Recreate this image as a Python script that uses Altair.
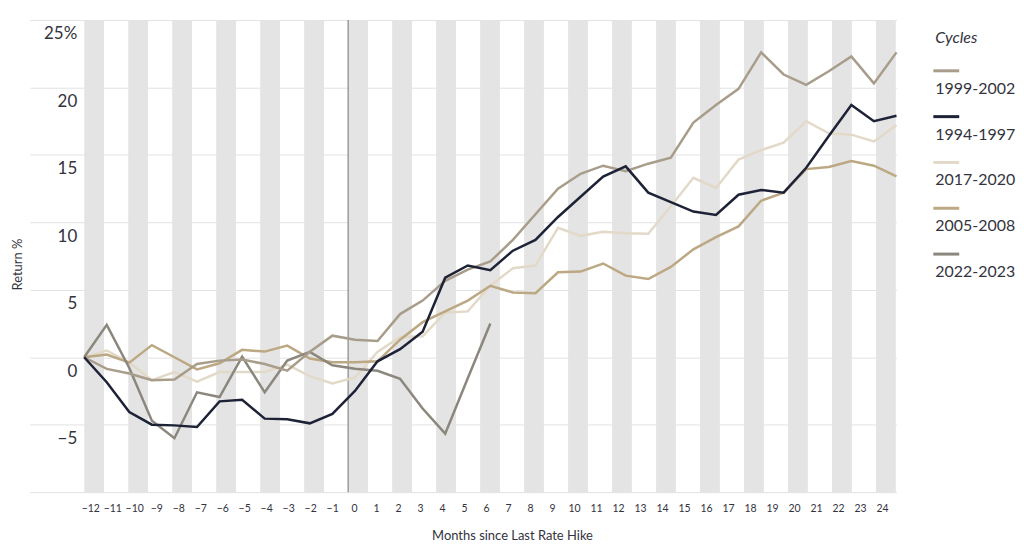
import altair as alt
import pandas as pd

FONT = "Lato"
TEXT = "#33333d"

months = list(range(-12, 25))
cycles = ["1999-2002", "1994-1997", "2017-2020", "2005-2008", "2022-2023"]
colors = ["#a89d8a", "#1e2236", "#e3d9c8", "#bca883", "#8c877c"]

r_1999_2002 = [0, -0.86, -1.2, -1.7, -1.65, -0.5, -0.25, -0.17, -0.5, -1.0, 0.4, 1.6, 1.3,
               1.2, 3.2, 4.2, 5.66, 6.5, 7.1, 8.7, 10.6, 12.5, 13.6, 14.2, 13.8,
               14.35, 14.8, 17.4, 18.7, 19.9, 22.6, 20.96, 20.2, 21.2, 22.3, 20.3, 22.6]
r_1994_1997 = [0, -1.85, -4.06, -5.0, -5.05, -5.17, -3.27, -3.15, -4.55, -4.6, -4.9, -4.2, -2.5,
               -0.3, 0.6, 1.9, 5.9, 6.8, 6.45, 7.9, 8.7, 10.4, 11.9, 13.4, 14.15,
               12.2, 11.5, 10.8, 10.55, 12.05, 12.4, 12.2, 14.05, 16.4, 18.7, 17.5, 17.9]
r_2017_2020 = [0, 0.5, -0.4, -1.7, -1.1, -1.8, -1.1, -1.1, -1.1, -0.55, -1.4, -1.95, -1.5,
               0.4, 1.5, 1.55, 3.3, 3.4, 5.3, 6.6, 6.8, 9.6, 9.0, 9.3, 9.2,
               9.15, 11.2, 13.3, 12.55, 14.65, 15.35, 15.9, 17.5, 16.6, 16.5, 16.0, 17.2]
r_2005_2008 = [0, 0.2, -0.4, 0.9, 0.0, -0.9, -0.45, 0.55, 0.42, 0.86, -0.1, -0.37, -0.37,
               -0.3, 1.3, 2.6, 3.4, 4.2, 5.3, 4.8, 4.75, 6.3, 6.35, 6.95, 6.05,
               5.8, 6.7, 8.0, 8.9, 9.7, 11.6, 12.2, 13.95, 14.1, 14.55, 14.2, 13.4]
r_2022_2023 = [0, 2.4, -0.8, -4.7, -6.0, -2.6, -2.95, 0.05, -2.6, -0.25, 0.4, -0.6, -0.85,
               -1.0, -1.6, -3.8, -5.66, -1.55, 2.5]

y_ticks = [-10, -5, 0, 5, 10, 15, 20, 25]
band_starts = list(range(-12, 25, 2))

series = {
    "2017-2020": r_2017_2020,
    "2005-2008": r_2005_2008,
    "2022-2023": r_2022_2023,
    "1999-2002": r_1999_2002,
    "1994-1997": r_1994_1997,
}
rows = []
for name, vals in series.items():
    for m, v in zip(months, vals):
        rows.append({"month": m, "ret": v, "cycle": name})
df = pd.DataFrame(rows)
band_df = pd.DataFrame({"start": band_starts})

W, H = 870, 474
color_scale = alt.Scale(domain=cycles, range=colors)

x_band = alt.X(
    "start:Q",
    scale=alt.Scale(domain=[-14.47, 24.93], nice=False, zero=False),
    axis=alt.Axis(values=months, orient="bottom", title="Months since Last Rate Hike",
                  grid=False, domain=False, ticks=False, labelFontSize=10.5,
                  labelPadding=11, labelOffset=6, labelColor=TEXT,
                  labelFlush=False, labelOverlap=False, labelBound=False,
                  labelSeparation=0,
                  titleFontSize=13, titleFontWeight="normal", titleColor=TEXT,
                  titleX=484, titleY=44, titleBaseline="middle"),
)

bands = alt.Chart(band_df).transform_calculate(end="datum.start + 0.9").mark_rect(
    color="#e4e4e4"
).encode(
    x=x_band,
    x2="end:Q",
    y=alt.value(0),
    y2=alt.value("height"),
)

zero_rule = alt.Chart(band_df).transform_filter("datum.start == 0").mark_rule(
    color="#9c9c9c", strokeWidth=1.5
).encode(
    x=x_band,
    y=alt.value(0),
    y2=alt.value("height"),
)

lines = alt.Chart(df).mark_line(strokeWidth=2.5).encode(
    x=alt.X("month:Q", scale=alt.Scale(domain=[-14.405, 24.0], nice=False, zero=False), axis=None),
    y=alt.Y("ret:Q",
            scale=alt.Scale(domain=[-10, 25], nice=False, zero=False),
            axis=alt.Axis(values=y_ticks, title="Return %",
                          labelExpr="datum.value == 25 ? '25%' : (datum.value == -10 ? '' : datum.label)",
                          grid=True, gridColor="#e2e2e2", gridWidth=1,
                          domain=False, ticks=False, labelFontSize=17, labelColor=TEXT,
                          labelPadding=-47, labelBaseline="middle", labelOffset=14,
                          labelFlush=False, labelBound=False, labelAlign="right",
                          titleFontSize=13, titleFontWeight="normal", titleColor=TEXT,
                          titleX=-12, titleY=245, titleBaseline="middle", titleAngle=270)),
    color=alt.Color("cycle:N", scale=color_scale, legend=None),
)

main = alt.layer(alt.layer(bands, zero_rule), lines).resolve_scale(x="independent").properties(
    width=W, height=H
)

leg_df = pd.DataFrame({"cycle": cycles})
leg_title_df = pd.DataFrame({"t": ["Cycles"]})
leg_y = alt.Y("cycle:N", sort=cycles,
              scale=alt.Scale(type="point", domain=cycles, range=[51, 235], padding=0),
              axis=None)

leg_title = alt.Chart(leg_title_df).mark_text(
    align="left", baseline="middle", fontSize=16, fontStyle="italic", font=FONT, color=TEXT
).encode(x=alt.value(2), y=alt.value(18), text="t:N")

leg_rules = alt.Chart(leg_df).mark_rule(strokeWidth=3).encode(
    x=alt.value(0), x2=alt.value(26), y=leg_y,
    color=alt.Color("cycle:N", scale=color_scale, legend=None),
)

leg_text = alt.Chart(leg_df).mark_text(
    align="left", baseline="middle", dx=2, dy=18, fontSize=16, font=FONT, color=TEXT
).encode(x=alt.value(0), y=leg_y, text="cycle:N")

legend = alt.layer(leg_title, leg_rules, leg_text).properties(width=80, height=H)

chart = alt.hconcat(main, legend, spacing=30).properties(
    padding={"left": 4, "top": 10, "right": 0, "bottom": 0}
).configure(font=FONT).configure_view(stroke=None).configure_axisX(labelOverlap=False)

chart.save("out.html", embed_options={"renderer": "svg", "actions": False})
